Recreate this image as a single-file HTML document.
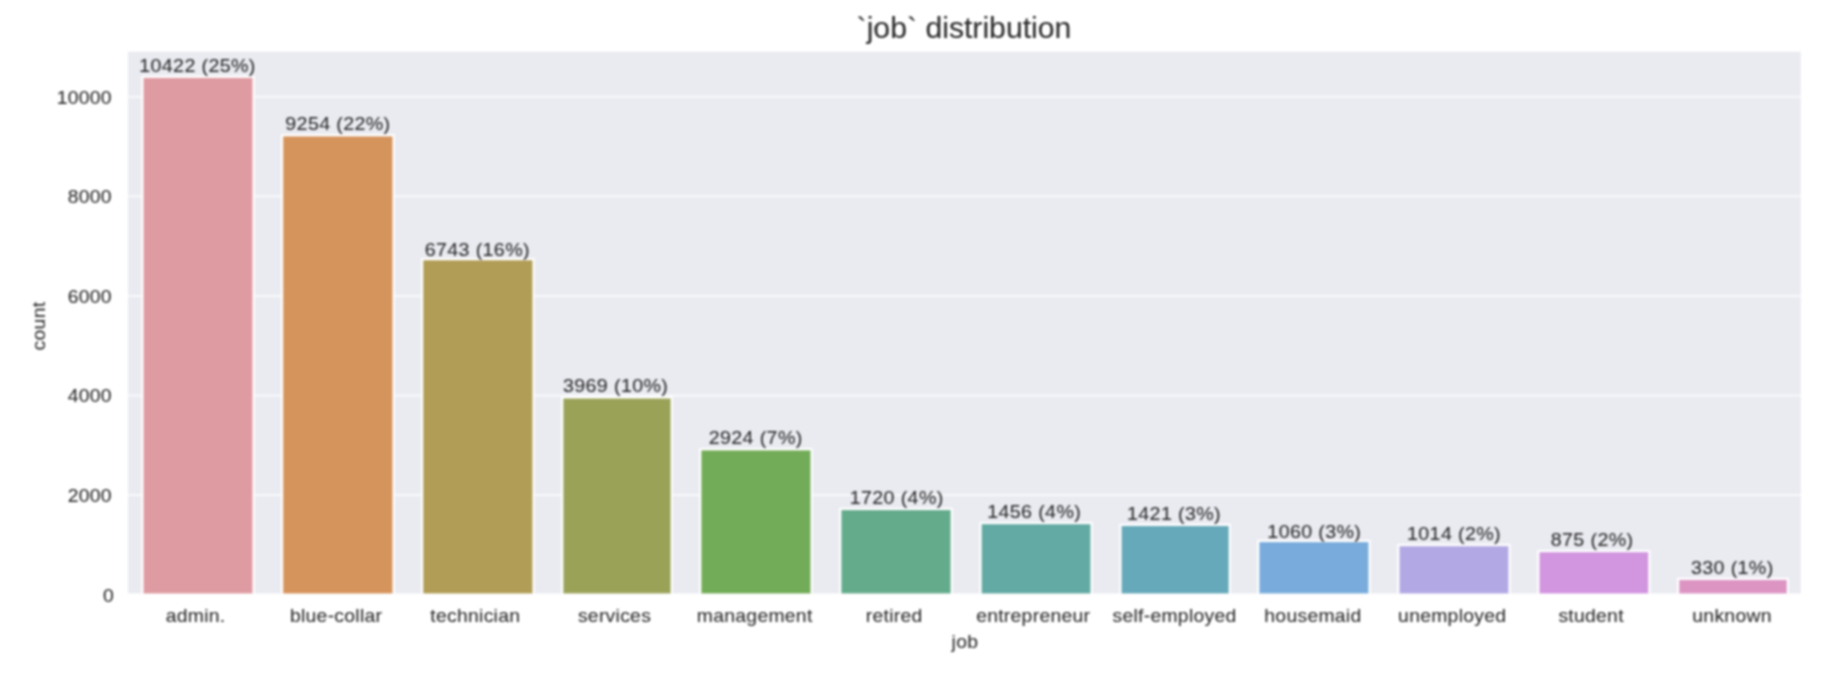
<!DOCTYPE html>
<html lang="en"><head><meta charset="utf-8"><title>job distribution</title>
<style>
html,body{margin:0;padding:0;background:#fff;}
body{width:1834px;height:682px;overflow:hidden;}
svg{display:block;}
svg text{font-family:"Liberation Sans",Arial,Helvetica,sans-serif;fill:#2c2c2c;stroke:#2c2c2c;stroke-width:0.1px;}
.t{font-size:18.6px;letter-spacing:0.27px;}
.a{font-size:18.8px;letter-spacing:0.35px;}
.ttl{font-size:30.2px;}
</style></head><body>
<svg width="1834" height="682" viewBox="0 0 1834 682">
<rect x="0" y="0" width="1834" height="682" fill="#fff"/>
<g style="filter:blur(0.85px)">
<rect x="128.0" y="51.7" width="1672.8" height="541.7" fill="#eaebf1"/>
<line x1="128.0" x2="1800.8" y1="495.1" y2="495.1" stroke="#fff" stroke-width="2" stroke-opacity="0.68"/>
<line x1="128.0" x2="1800.8" y1="395.5" y2="395.5" stroke="#fff" stroke-width="2" stroke-opacity="0.68"/>
<line x1="128.0" x2="1800.8" y1="295.9" y2="295.9" stroke="#fff" stroke-width="2" stroke-opacity="0.68"/>
<line x1="128.0" x2="1800.8" y1="196.3" y2="196.3" stroke="#fff" stroke-width="2" stroke-opacity="0.68"/>
<line x1="128.0" x2="1800.8" y1="96.7" y2="96.7" stroke="#fff" stroke-width="2" stroke-opacity="0.68"/>
<rect x="141.30" y="75.60" width="113.50" height="517.80" fill="#fff" fill-opacity="0.92"/><rect x="143.60" y="77.90" width="108.90" height="515.50" fill="#df9ba2"/>
<rect x="280.90" y="134.10" width="113.90" height="459.30" fill="#fff" fill-opacity="0.92"/><rect x="283.20" y="136.40" width="109.30" height="457.00" fill="#d6945d"/>
<rect x="421.00" y="258.00" width="113.75" height="335.40" fill="#fff" fill-opacity="0.92"/><rect x="423.30" y="260.30" width="109.15" height="333.10" fill="#b19d56"/>
<rect x="561.10" y="396.20" width="111.80" height="197.20" fill="#fff" fill-opacity="0.92"/><rect x="563.40" y="398.50" width="107.20" height="194.90" fill="#9aa258"/>
<rect x="699.10" y="448.10" width="113.70" height="145.30" fill="#fff" fill-opacity="0.92"/><rect x="701.40" y="450.40" width="109.10" height="143.00" fill="#72ac58"/>
<rect x="839.10" y="507.80" width="113.80" height="85.60" fill="#fff" fill-opacity="0.92"/><rect x="841.40" y="510.10" width="109.20" height="83.30" fill="#64ab8c"/>
<rect x="979.40" y="521.90" width="113.35" height="71.50" fill="#fff" fill-opacity="0.92"/><rect x="981.70" y="524.20" width="108.75" height="69.20" fill="#62aaa3"/>
<rect x="1119.30" y="523.70" width="111.60" height="69.70" fill="#fff" fill-opacity="0.92"/><rect x="1121.60" y="526.00" width="107.00" height="67.40" fill="#66a9ba"/>
<rect x="1257.10" y="539.80" width="113.60" height="53.60" fill="#fff" fill-opacity="0.92"/><rect x="1259.40" y="542.10" width="109.00" height="51.30" fill="#79acdc"/>
<rect x="1397.20" y="543.90" width="113.50" height="49.50" fill="#fff" fill-opacity="0.92"/><rect x="1399.50" y="546.20" width="108.90" height="47.20" fill="#b2a9e4"/>
<rect x="1537.20" y="549.90" width="113.30" height="43.50" fill="#fff" fill-opacity="0.92"/><rect x="1539.50" y="552.20" width="108.70" height="41.20" fill="#d295e0"/>
<rect x="1677.00" y="577.70" width="112.00" height="15.70" fill="#fff" fill-opacity="0.92"/><rect x="1679.30" y="580.00" width="107.40" height="13.40" fill="#dc94c3"/>
</g>
<g style="filter:blur(0.90px)">
<text class="a" transform="translate(197.5,71.6) scale(1.045,1)" text-anchor="middle">10422 (25%)</text>
<text class="a" transform="translate(337.9,129.9) scale(1.045,1)" text-anchor="middle">9254 (22%)</text>
<text class="a" transform="translate(477.3,255.9) scale(1.045,1)" text-anchor="middle">6743 (16%)</text>
<text class="a" transform="translate(615.6,391.8) scale(1.045,1)" text-anchor="middle">3969 (10%)</text>
<text class="a" transform="translate(755.7,444.1) scale(1.045,1)" text-anchor="middle">2924 (7%)</text>
<text class="a" transform="translate(896.7,504.0) scale(1.045,1)" text-anchor="middle">1720 (4%)</text>
<text class="a" transform="translate(1034.2,518.0) scale(1.045,1)" text-anchor="middle">1456 (4%)</text>
<text class="a" transform="translate(1174.0,519.7) scale(1.045,1)" text-anchor="middle">1421 (3%)</text>
<text class="a" transform="translate(1314.3,538.0) scale(1.045,1)" text-anchor="middle">1060 (3%)</text>
<text class="a" transform="translate(1454.0,539.7) scale(1.045,1)" text-anchor="middle">1014 (2%)</text>
<text class="a" transform="translate(1592.1,546.1) scale(1.045,1)" text-anchor="middle">875 (2%)</text>
<text class="a" transform="translate(1732.3,574.0) scale(1.045,1)" text-anchor="middle">330 (1%)</text>
<text class="t" transform="translate(195.6,621.7) scale(1.04,1)" text-anchor="middle">admin.</text>
<text class="t" transform="translate(336.1,621.7) scale(1.04,1)" text-anchor="middle">blue-collar</text>
<text class="t" transform="translate(475.3,621.7) scale(1.04,1)" text-anchor="middle">technician</text>
<text class="t" transform="translate(614.5,621.7) scale(1.04,1)" text-anchor="middle">services</text>
<text class="t" transform="translate(754.7,621.7) scale(1.04,1)" text-anchor="middle">management</text>
<text class="t" transform="translate(894.2,621.7) scale(1.04,1)" text-anchor="middle">retired</text>
<text class="t" transform="translate(1033.2,621.7) scale(1.04,1)" text-anchor="middle">entrepreneur</text>
<text class="t" transform="translate(1174.5,621.7) scale(1.04,1)" text-anchor="middle">self-employed</text>
<text class="t" transform="translate(1312.9,621.7) scale(1.04,1)" text-anchor="middle">housemaid</text>
<text class="t" transform="translate(1452.2,621.7) scale(1.04,1)" text-anchor="middle">unemployed</text>
<text class="t" transform="translate(1591.1,621.7) scale(1.04,1)" text-anchor="middle">student</text>
<text class="t" transform="translate(1732.0,621.7) scale(1.04,1)" text-anchor="middle">unknown</text>
<text class="t" transform="translate(114.0,601.6) scale(1.04,1)" text-anchor="end">0</text>
<text class="t" transform="translate(111.9,502.0) scale(1.04,1)" text-anchor="end">2000</text>
<text class="t" transform="translate(111.9,402.4) scale(1.04,1)" text-anchor="end">4000</text>
<text class="t" transform="translate(111.9,302.8) scale(1.04,1)" text-anchor="end">6000</text>
<text class="t" transform="translate(111.9,203.2) scale(1.04,1)" text-anchor="end">8000</text>
<text class="t" transform="translate(111.9,103.6) scale(1.04,1)" text-anchor="end">10000</text>
<text class="t" transform="translate(964.9,647.7) scale(1.04,1)" text-anchor="middle">job</text>
<text class="t" transform="translate(45.0,326) rotate(-90) scale(1.04,1)" text-anchor="middle">count</text>
<text class="ttl" x="964" y="38.2" text-anchor="middle">`job` distribution</text>
</g>
</svg>
</body></html>
